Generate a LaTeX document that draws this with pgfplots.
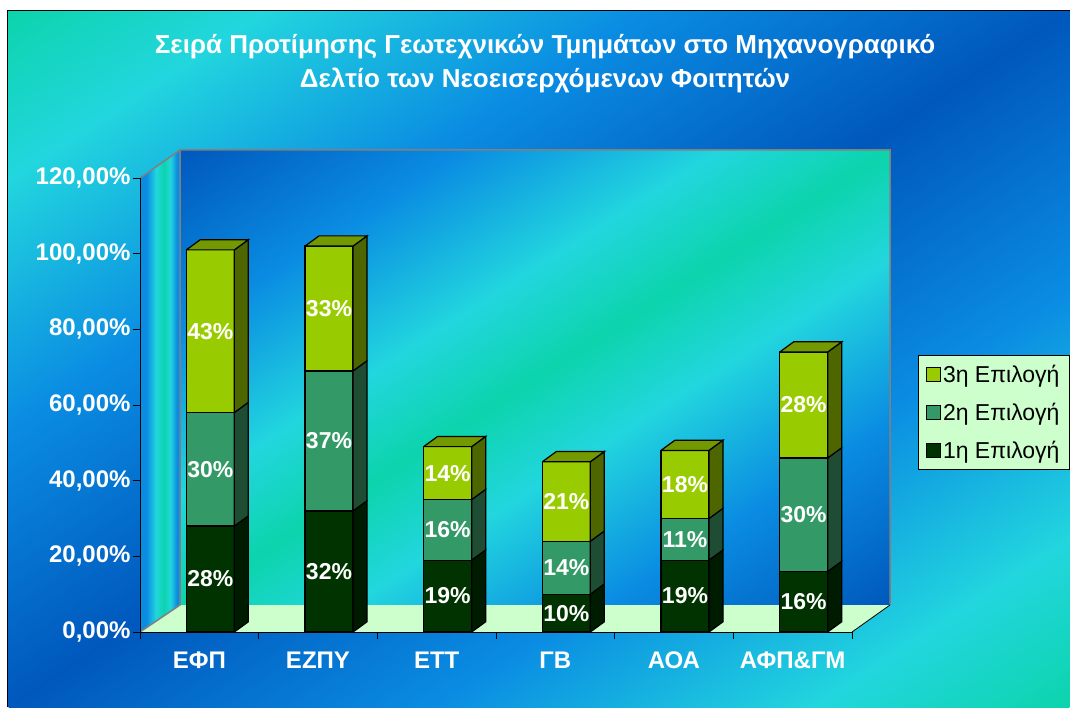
\documentclass[border=0pt]{standalone}
\usepackage{pgfplots}
\pgfplotsset{compat=1.18}
\usepackage{fontspec}
\setmainfont{Liberation Sans}
\definecolor{teal1}{RGB}{12,212,172}
\definecolor{cyan1}{RGB}{34,214,222}
\definecolor{blue1}{RGB}{10,140,226}
\definecolor{dark1}{RGB}{0,88,189}
\definecolor{c1}{RGB}{0,51,0}
\definecolor{c2}{RGB}{51,153,102}
\definecolor{c3}{RGB}{153,204,0}
\definecolor{s1}{RGB}{0,28,0}
\definecolor{s2}{RGB}{30,77,51}
\definecolor{s3}{RGB}{77,102,0}
\definecolor{t3}{RGB}{115,153,0}
\definecolor{legbg}{RGB}{204,255,204}
\definecolor{wallgray}{RGB}{128,128,128}
\pgfdeclarehorizontalshading{outerbg}{100bp}{color(0bp)=(teal1); color(25bp)=(teal1); color(31bp)=(cyan1); color(40bp)=(blue1); color(50bp)=(dark1); color(60bp)=(blue1); color(69bp)=(cyan1); color(75bp)=(teal1); color(100bp)=(teal1)}
\pgfdeclarehorizontalshading{wallbg}{100bp}{color(0bp)=(dark1); color(25bp)=(dark1); color(35bp)=(blue1); color(44bp)=(cyan1); color(50bp)=(teal1); color(56bp)=(cyan1); color(65bp)=(blue1); color(75bp)=(dark1); color(100bp)=(dark1)}
\pgfdeclarehorizontalshading{leftbg}{100bp}{color(0bp)=(blue1); color(25bp)=(blue1); color(33bp)=(blue1); color(45bp)=(cyan1); color(55bp)=(teal1); color(63bp)=(cyan1); color(71bp)=(blue1); color(75bp)=(blue1); color(100bp)=(blue1)}
\newcommand{\tickfont}{\fontsize{24}{28}\selectfont\bfseries}
\newcommand{\valfont}{\fontsize{23}{27}\selectfont\bfseries}
\begin{document}
\begin{tikzpicture}
\useasboundingbox (-140pt,-75pt) rectangle (930pt,632pt);
\fill[white] (-140pt,-75pt) rectangle (930pt,632pt);
% outer gradient
\begin{scope}
\clip (-132pt,-75pt) rectangle (930pt,621pt);
\begin{scope}[transform canvas={cm={10.62,-6.96,10.62,6.96,(-132pt,621pt)}}]
\shade[shading=outerbg] (0pt,-50pt) rectangle (100pt,50pt);
\end{scope}
\end{scope}
\draw[black, line width=1pt] (-132pt,-75pt) -- (-132pt,621pt) -- (930pt,621pt);
% back wall
\begin{scope}
\clip (40pt,27pt) rectangle (750pt,482pt);
\begin{scope}[transform canvas={cm={7.10,-4.55,7.10,4.55,(40pt,482pt)}}]
\shade[shading=wallbg] (0pt,-50pt) rectangle (100pt,50pt);
\end{scope}
\end{scope}
% left wall
\shade[shading=leftbg] (0pt,0pt) -- (0pt,454pt) -- (40pt,482pt) -- (40pt,27pt) -- cycle;
% grid lines
\foreach \v in {20,40,60,80,100} {
  \draw[black, line width=0.8pt] (40pt,{27+\v*3.7917}) -- (750pt,{27+\v*3.7917});
  \draw[black, line width=0.8pt] (0pt,{\v*3.7833}) -- (40pt,{27+\v*3.7917});
}
% floor
\fill[legbg] (0pt,0pt) -- (712pt,0pt) -- (750pt,27pt) -- (40pt,27pt) -- cycle;
\draw[wallgray, line width=1.5pt] (0pt,0pt) -- (40pt,27pt) -- (40pt,482pt) -- (750pt,482pt) -- (750pt,27pt);
\draw[wallgray, line width=1.5pt] (0pt,454pt) -- (40pt,482pt);
\draw[black, line width=0.8pt] (712pt,0pt) -- (750pt,27pt);
% title
\node[text=white, font=\fontsize{26}{34}\selectfont\bfseries, align=center] at (405pt,568pt)
 {Σειρά Προτίμησης Γεωτεχνικών Τμημάτων στο Μηχανογραφικό\\Δελτίο των Νεοεισερχόμενων Φοιτητών};

\begin{axis}[
  at={(0pt,0pt)}, anchor=south west,
  width=712pt, height=454pt, scale only axis,
  xmin=-0.5, xmax=5.5, ymin=0, ymax=120,
  enlargelimits=false, clip=false,
  ybar stacked, bar width=48pt, bar shift=11pt,
  axis x line*=bottom, axis y line*=left,
  axis line style={black, line width=0.8pt},
  tick align=outside, major tick length=7pt,
  tick style={black, line width=0.8pt},
  ytick={0,20,40,60,80,100,120},
  yticklabels={{0,00\%},{20,00\%},{40,00\%},{60,00\%},{80,00\%},{100,00\%},{120,00\%}},
  xtick={-0.5,0.5,1.5,2.5,3.5,4.5,5.5},
  xticklabels={},
  extra x ticks={0,1,2,3,4,5},
  extra x tick labels={ΕΦΠ,ΕΖΠΥ,ΕΤΤ,ΓΒ,ΑΟΑ,ΑΦΠ\&ΓΜ},
  extra x tick style={major tick length=0pt, xticklabel style={yshift=-16pt}},
  tick label style={font=\tickfont, text=white},
  yticklabel style={xshift=1pt},
  legend style={at={(1.0927,0.6101)}, anchor=north west, fill=legbg, draw=black,
    font=\fontsize{23}{27}\selectfont, text=black, row sep=15pt, inner sep=8pt,
    cells={anchor=west}},
  reverse legend,
  legend image code/.code={\draw[#1,draw=black,line width=0.8pt] (0pt,-7pt) rectangle (14pt,7pt);},
]
\addplot[fill=c1, draw=black, line width=1.2pt] coordinates {(0,28) (1,32) (2,19) (3,10) (4,19) (5,16)};
\addplot[fill=c2, draw=black, line width=1.2pt] coordinates {(0,30) (1,37) (2,16) (3,14) (4,11) (5,30)};
\addplot[fill=c3, draw=black, line width=1.2pt] coordinates {(0,43) (1,33) (2,14) (3,21) (4,18) (5,28)};
\legend{1η Επιλογή, 2η Επιλογή, 3η Επιλογή}
\end{axis}

\begin{axis}[
  at={(0pt,0pt)}, anchor=south west,
  width=712pt, height=454pt, scale only axis,
  xmin=-0.5, xmax=5.5, ymin=0, ymax=120,
  enlargelimits=false, clip=false, hide axis, no markers,
]
% bar 0
\addplot[fill=s1, draw=black, line width=1.2pt] coordinates {(0.2949,0) (0.4129,2.7) (0.4129,30.7) (0.2949,28) (0.2949,0)};
\addplot[fill=s2, draw=black, line width=1.2pt] coordinates {(0.2949,28) (0.4129,30.7) (0.4129,60.7) (0.2949,58) (0.2949,28)};
\addplot[fill=s3, draw=black, line width=1.2pt] coordinates {(0.2949,58) (0.4129,60.7) (0.4129,103.7) (0.2949,101) (0.2949,58)};
\addplot[fill=t3, draw=black, line width=1.2pt] coordinates {(-0.1095,101) (0.2949,101) (0.4129,103.7) (0.0085,103.7) (-0.1095,101)};
% bar 1
\addplot[fill=s1, draw=black, line width=1.2pt] coordinates {(1.2949,0) (1.4129,2.7) (1.4129,34.7) (1.2949,32) (1.2949,0)};
\addplot[fill=s2, draw=black, line width=1.2pt] coordinates {(1.2949,32) (1.4129,34.7) (1.4129,71.7) (1.2949,69) (1.2949,32)};
\addplot[fill=s3, draw=black, line width=1.2pt] coordinates {(1.2949,69) (1.4129,71.7) (1.4129,104.7) (1.2949,102) (1.2949,69)};
\addplot[fill=t3, draw=black, line width=1.2pt] coordinates {(0.8905,102) (1.2949,102) (1.4129,104.7) (1.0085,104.7) (0.8905,102)};
% bar 2
\addplot[fill=s1, draw=black, line width=1.2pt] coordinates {(2.2949,0) (2.4129,2.7) (2.4129,21.7) (2.2949,19) (2.2949,0)};
\addplot[fill=s2, draw=black, line width=1.2pt] coordinates {(2.2949,19) (2.4129,21.7) (2.4129,37.7) (2.2949,35) (2.2949,19)};
\addplot[fill=s3, draw=black, line width=1.2pt] coordinates {(2.2949,35) (2.4129,37.7) (2.4129,51.7) (2.2949,49) (2.2949,35)};
\addplot[fill=t3, draw=black, line width=1.2pt] coordinates {(1.8905,49) (2.2949,49) (2.4129,51.7) (2.0085,51.7) (1.8905,49)};
% bar 3
\addplot[fill=s1, draw=black, line width=1.2pt] coordinates {(3.2949,0) (3.4129,2.7) (3.4129,12.7) (3.2949,10) (3.2949,0)};
\addplot[fill=s2, draw=black, line width=1.2pt] coordinates {(3.2949,10) (3.4129,12.7) (3.4129,26.7) (3.2949,24) (3.2949,10)};
\addplot[fill=s3, draw=black, line width=1.2pt] coordinates {(3.2949,24) (3.4129,26.7) (3.4129,47.7) (3.2949,45) (3.2949,24)};
\addplot[fill=t3, draw=black, line width=1.2pt] coordinates {(2.8905,45) (3.2949,45) (3.4129,47.7) (3.0085,47.7) (2.8905,45)};
% bar 4
\addplot[fill=s1, draw=black, line width=1.2pt] coordinates {(4.2949,0) (4.4129,2.7) (4.4129,21.7) (4.2949,19) (4.2949,0)};
\addplot[fill=s2, draw=black, line width=1.2pt] coordinates {(4.2949,19) (4.4129,21.7) (4.4129,32.7) (4.2949,30) (4.2949,19)};
\addplot[fill=s3, draw=black, line width=1.2pt] coordinates {(4.2949,30) (4.4129,32.7) (4.4129,50.7) (4.2949,48) (4.2949,30)};
\addplot[fill=t3, draw=black, line width=1.2pt] coordinates {(3.8905,48) (4.2949,48) (4.4129,50.7) (4.0085,50.7) (3.8905,48)};
% bar 5
\addplot[fill=s1, draw=black, line width=1.2pt] coordinates {(5.2949,0) (5.4129,2.7) (5.4129,18.7) (5.2949,16) (5.2949,0)};
\addplot[fill=s2, draw=black, line width=1.2pt] coordinates {(5.2949,16) (5.4129,18.7) (5.4129,48.7) (5.2949,46) (5.2949,16)};
\addplot[fill=s3, draw=black, line width=1.2pt] coordinates {(5.2949,46) (5.4129,48.7) (5.4129,76.7) (5.2949,74) (5.2949,46)};
\addplot[fill=t3, draw=black, line width=1.2pt] coordinates {(4.8905,74) (5.2949,74) (5.4129,76.7) (5.0085,76.7) (4.8905,74)};
% value labels
\addplot[draw=none, mark=none, nodes near coords, point meta=explicit symbolic,
  every node near coord/.append style={anchor=center, text=white, font=\valfont}]
  coordinates {
  (0.0927,14) [28\%] (0.0927,43) [30\%] (0.0927,79.5) [43\%]
  (1.0927,16) [32\%] (1.0927,50.5) [37\%] (1.0927,85.5) [33\%]
  (2.0927,9.5) [19\%] (2.0927,27) [16\%] (2.0927,42) [14\%]
  (3.0927,5) [10\%] (3.0927,17) [14\%] (3.0927,34.5) [21\%]
  (4.0927,9.5) [19\%] (4.0927,24.5) [11\%] (4.0927,39) [18\%]
  (5.0927,8) [16\%] (5.0927,31) [30\%] (5.0927,60) [28\%]
  };
\end{axis}
\end{tikzpicture}
\end{document}
